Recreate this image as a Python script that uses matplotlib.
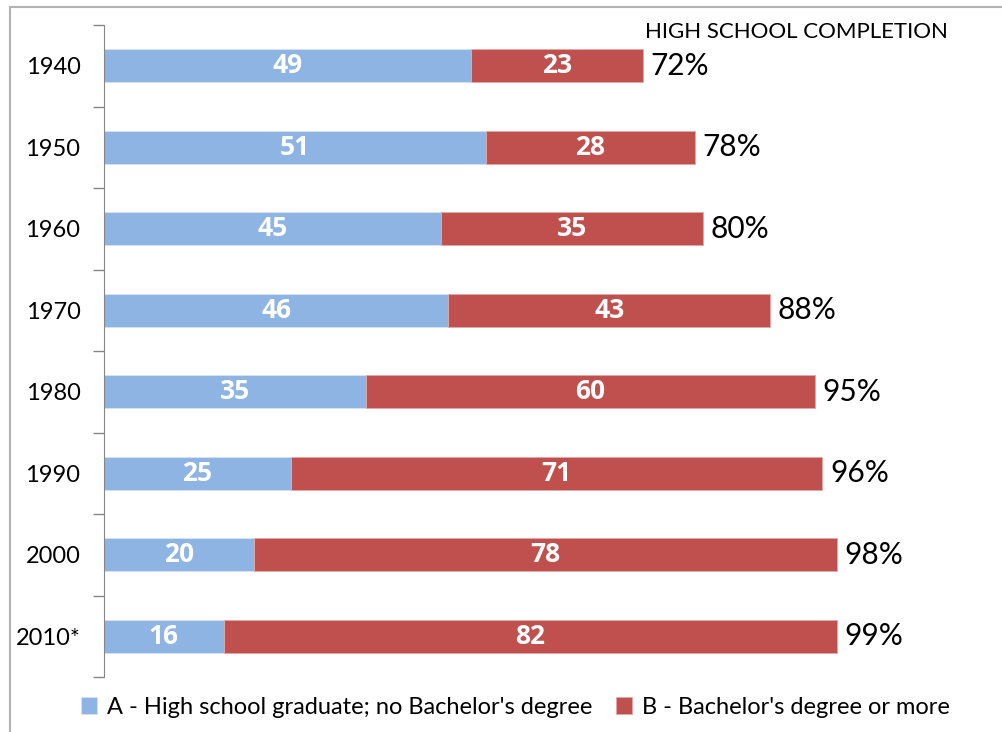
import numpy as np
import matplotlib.pyplot as plt
from matplotlib.patches import Rectangle

plt.rcParams['font.family'] = ['Lato', 'DejaVu Sans']

years = ['1940', '1950', '1960', '1970', '1980', '1990', '2000', '2010*']
hs_only = [49, 51, 45, 46, 35, 25, 20, 16]
bachelor = [23, 28, 35, 43, 60, 71, 78, 82]
completion = [72, 78, 80, 88, 95, 96, 98, 99]

blue = '#8DB4E2'
red = '#C0504D'

fig = plt.figure(figsize=(10.02, 7.32), dpi=100)
ax = fig.add_axes([0.1038, 0.0751, 0.8962, 0.8907])

y = np.arange(len(years))
a = np.array(hs_only)
b = np.array(bachelor)

ax.barh(y, a, height=0.4, color=blue, edgecolor='#D6E3F3', linewidth=0.6,
        label="A - High school graduate; no Bachelor's degree")
ax.barh(y, b, left=a, height=0.4, color=red, edgecolor='#E3A9A7', linewidth=0.6,
        label="B - Bachelor's degree or more")

# segment values in white, totals to the right
for i in range(len(years)):
    ax.text(a[i] / 2, y[i], str(a[i]), ha='center', va='center', color='white',
            fontsize=19, fontweight='bold', family='Open Sans')
    ax.text(a[i] + b[i] / 2, y[i], str(b[i]), ha='center', va='center', color='white',
            fontsize=19, fontweight='bold', family='Open Sans')
    ax.text(a[i] + b[i] + 1.0, y[i], f'{completion[i]}%', ha='left', va='center',
            color='black', fontsize=21.5)

ax.text(72.3, -0.42, 'HIGH SCHOOL COMPLETION', ha='left', va='center', fontsize=16)

ax.set_xlim(0, 120)
ax.set_ylim(len(years) - 0.5, -0.5)
ax.set_xticks([])
ax.set_yticks(y)
ax.set_yticklabels(years, fontsize=17)
ax.set_yticks(np.arange(-0.5, len(years)), minor=True)
ax.tick_params(axis='y', which='major', length=0, pad=17)
ax.tick_params(axis='y', which='minor', length=8, color='#868686', width=1)

for side in ['top', 'right', 'bottom']:
    ax.spines[side].set_visible(False)
ax.spines['left'].set_color('#868686')

ax.legend(loc='lower center', bbox_to_anchor=(0.458, -0.095), ncol=2, frameon=False,
          fontsize=17, handlelength=0.7, handleheight=0.7, handletextpad=0.4,
          columnspacing=1.0)

# outer chart border (only top and left fall inside the image)
fig.add_artist(Rectangle((10 / 1002, -0.1), 1.2, (732 - 7) / 732 + 0.1,
                         transform=fig.transFigure, fill=False,
                         edgecolor='#B3B3B3', linewidth=1.5))

fig.savefig('out.png', dpi=100)
